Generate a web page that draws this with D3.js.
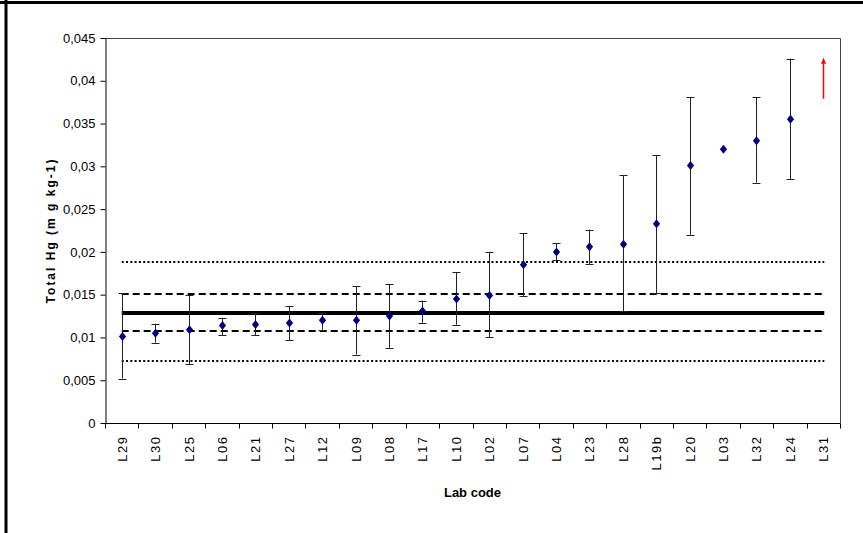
<!DOCTYPE html>
<html>
<head>
<meta charset="utf-8">
<script src="https://cdn.jsdelivr.net/npm/d3@7"></script>
<style>
  html, body { margin: 0; padding: 0; background: #fff; }
  svg { display: block; font-family: "Liberation Sans", Arial, sans-serif; }
</style>
</head>
<body>
<div id="chart"></div>
<script>
// lab codes, in the order shown on the x axis
const labs = ["L29", "L30", "L25", "L06", "L21", "L27", "L12", "L09", "L08", "L17", "L10",
  "L02", "L07", "L04", "L23", "L28", "L19b", "L20", "L03", "L32", "L24", "L31"];
// reported total Hg (mg kg-1), null where off scale
const means = [0.0101, 0.0105, 0.0109, 0.0114, 0.0115, 0.0117, 0.0120, 0.0120, 0.0125, 0.0131, 0.0145,
  0.0149, 0.0185, 0.0200, 0.0206, 0.0209, 0.0233, 0.0301, 0.0320, 0.0330, 0.0355, null];
const upper = [0.0152, 0.0116, 0.0150, 0.0123, 0.0128, 0.0137, 0.0128, 0.0160, 0.0162, 0.0143, 0.0176,
  0.0200, 0.0222, 0.0210, 0.0226, 0.0290, 0.0313, 0.0381, null, 0.0381, 0.0426, null];
const lower = [0.0052, 0.0094, 0.0069, 0.0103, 0.0103, 0.0097, 0.0109, 0.0080, 0.0088, 0.0117, 0.0115,
  0.0100, 0.0148, 0.0190, 0.0186, 0.0131, 0.0152, 0.0220, null, 0.0281, 0.0285, null];
// assigned value and the two acceptance bands
const assigned = 0.0129;
const innerBand = [0.0108, 0.0151];
const outerBand = [0.0073, 0.0188];
// off-scale marker for L31
const offScale = { lab: "L31", from: 0.0379, to: 0.0427 };
const yTicks = [0, 0.005, 0.01, 0.015, 0.02, 0.025, 0.03, 0.035, 0.04, 0.045];

const width = 863, height = 533;
const margin = { top: 38, right: 23, bottom: 110, left: 105 };

const svg = d3.select("#chart").append("svg")
  .attr("width", width)
  .attr("height", height);

// outer frame (top and left edges only, as in the cropped picture)
svg.append("line").attr("x1", 0).attr("x2", width).attr("y1", 2.5).attr("y2", 2.5)
  .attr("stroke", "#000").attr("stroke-width", 3);
svg.append("line").attr("x1", 6).attr("x2", 6).attr("y1", 0).attr("y2", height)
  .attr("stroke", "#000").attr("stroke-width", 3);

const x = d3.scaleBand().domain(labs)
  .range([margin.left, width - margin.right]).padding(0);
const y = d3.scaleLinear().domain([0, 0.045])
  .range([height - margin.bottom, margin.top]);

const fmt = d3.formatLocale({ decimal: ",", thousands: ".", grouping: [3], currency: ["", ""] }).format(".3~f");
const cx = d => x(d) + x.bandwidth() / 2;

// plot frame (top/right)
svg.append("path")
  .attr("d", `M${margin.left},${margin.top + 0.5}H${width - margin.right + 0.5}V${height - margin.bottom}`)
  .attr("fill", "none").attr("stroke", "#444").attr("stroke-width", 1);

// y axis
const yAxis = svg.append("g")
  .attr("transform", `translate(${margin.left + 0.5},0)`)
  .call(d3.axisLeft(y).tickValues(yTicks).tickFormat(fmt).tickSize(5).tickSizeOuter(0).tickPadding(5));
yAxis.select(".domain").attr("stroke", "#000");
yAxis.selectAll("text").attr("font-size", 13).attr("fill", "#000")
  .attr("font-family", "Liberation Sans, Arial, sans-serif");

// x axis: ticks at the category boundaries
const xg = svg.append("g");
const yBase = height - margin.bottom + 0.5;
xg.append("line").attr("x1", margin.left).attr("x2", width - margin.right + 0.5)
  .attr("y1", yBase).attr("y2", yBase).attr("stroke", "#000");
const bounds = labs.map(d => x(d)).concat([x(labs[labs.length - 1]) + x.bandwidth()]);
xg.selectAll("line.tick").data(bounds).join("line")
  .attr("class", "tick")
  .attr("x1", d => Math.round(d) + 0.5).attr("x2", d => Math.round(d) + 0.5)
  .attr("y1", yBase).attr("y2", yBase + 5)
  .attr("stroke", "#000");
xg.selectAll("text").data(labs).join("text")
  .attr("transform", d => `translate(${cx(d) + 5},${yBase + 12}) rotate(-90)`)
  .attr("text-anchor", "end")
  .attr("font-size", 13)
  .attr("letter-spacing", 1.5)
  .text(d => d);

// axis titles
svg.append("text")
  .attr("transform", `translate(55,${(margin.top + height - margin.bottom) / 2}) rotate(-90)`)
  .attr("text-anchor", "middle")
  .attr("font-size", 12)
  .attr("font-weight", "bold")
  .attr("letter-spacing", 2)
  .text("Total Hg (m g kg-1)");
svg.append("text")
  .attr("x", (margin.left + width - margin.right) / 2)
  .attr("y", 497)
  .attr("text-anchor", "middle")
  .attr("font-size", 13)
  .attr("font-weight", "bold")
  .text("Lab code");

// reference lines
const x0 = cx(labs[0]), x1 = cx(labs[labs.length - 1]);
function refLine(v, w, dash) {
  const yy = Math.round(y(v));
  svg.append("line")
    .attr("x1", x0).attr("x2", x1 + 1)
    .attr("y1", yy).attr("y2", yy)
    .attr("stroke", "#000").attr("stroke-width", w)
    .attr("stroke-dasharray", dash);
}
outerBand.forEach(v => refLine(v, 2, "2,2.3"));
innerBand.forEach(v => refLine(v, 2, "7,4"));
refLine(assigned, 4, null);

// error bars
const rows = labs.map((lab, i) => ({ lab, m: means[i], hi: upper[i], lo: lower[i] }));
const bars = svg.append("g").selectAll("g")
  .data(rows.filter(r => r.hi != null && r.lo != null)).join("g");
bars.append("line")
  .attr("x1", d => Math.round(cx(d.lab)) + 0.5).attr("x2", d => Math.round(cx(d.lab)) + 0.5)
  .attr("y1", d => y(d.hi)).attr("y2", d => y(d.lo))
  .attr("stroke", "#222");
["hi", "lo"].forEach(k => {
  bars.append("line")
    .attr("x1", d => Math.round(cx(d.lab)) - 3.5).attr("x2", d => Math.round(cx(d.lab)) + 4.5)
    .attr("y1", d => Math.round(y(d[k])) + 0.5).attr("y2", d => Math.round(y(d[k])) + 0.5)
    .attr("stroke", "#222");
});

// diamond markers
svg.append("g").selectAll("path")
  .data(rows.filter(r => r.m != null)).join("path")
  .attr("transform", d => `translate(${Math.round(cx(d.lab)) + 0.5},${y(d.m)})`)
  .attr("d", "M0,-4.5L3.6,0L0,4.5L-3.6,0Z")
  .attr("fill", "#000080");

// off-scale arrow
const ax = Math.round(cx(offScale.lab)) + 0.5;
svg.append("line")
  .attr("x1", ax).attr("x2", ax)
  .attr("y1", y(offScale.from)).attr("y2", y(offScale.to) + 5)
  .attr("stroke", "#f00").attr("stroke-width", 1.5);
svg.append("path")
  .attr("d", `M${ax},${y(offScale.to)}L${ax + 2.5},${y(offScale.to) + 6}L${ax - 2.5},${y(offScale.to) + 6}Z`)
  .attr("fill", "#f00");
</script>
</body>
</html>
